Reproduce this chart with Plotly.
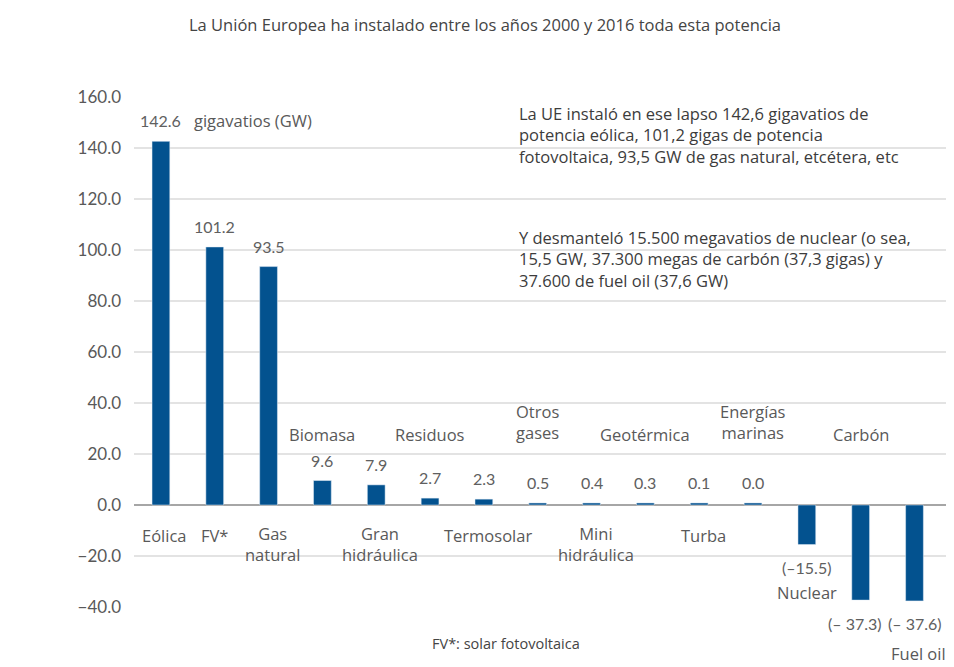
import plotly.graph_objects as go

categorias = ['Eólica', 'FV*', 'Gas<br>natural', 'Biomasa', 'Gran<br>hidráulica', 'Residuos',
              'Termosolar', 'Otros<br>gases', 'Mini<br>hidráulica', 'Geotérmica', 'Turba',
              'Energías<br>marinas', 'Nuclear', 'Carbón', 'Fuel oil']
# valores publicados (GW) y altura con que se ve cada barra en el gráfico
valores = [142.6, 101.2, 93.5, 9.6, 7.9, 2.7, 2.3, 0.5, 0.4, 0.3, 0.1, 0.0, -15.5, -37.3, -37.6]
alturas = [142.6, 101.2, 93.5, 9.6, 7.9, 2.7, 2.3, 0.8, 0.8, 0.8, 0.8, 0.8, -15.5, -37.3, -37.6]
# dónde va el nombre de cada categoría: debajo del eje ('abajo') o encima ('arriba')
lado = ['abajo', 'abajo', 'abajo', 'arriba', 'abajo', 'arriba', 'abajo', 'arriba',
        'abajo', 'arriba', 'abajo', 'arriba', 'abajo', 'arriba', 'abajo']

YMIN, YMAX = -40, 160
AZUL = '#03528f'
GRIS = '#595959'


def py(v):
    # posición en papel de un valor del eje y (para poder salir del área)
    return (v - YMIN) / (YMAX - YMIN)


# área de trazado en píxeles de la imagen: x 134..948, y 97..607
def px_x(p):
    return (p - 134) / 814


def px_y(p):
    return (607 - p) / 510


fig = go.Figure(go.Bar(x=categorias, y=alturas, marker_color=AZUL, hoverinfo='skip'))

anot = []
for i, (cat, v, h) in enumerate(zip(categorias, valores, alturas)):
    if v >= 0:
        txt, yv, dx = f'{v:.1f}', h + 8, 0
    else:
        sep = '– ' if cat != 'Nuclear' else '–'
        txt, yv, dx = f'({v:.1f})'.replace('-', sep), h - 9, 0
        if cat == 'Carbón':
            dx = -6
    anot.append(dict(x=cat, y=py(yv), yref='paper', text=txt, showarrow=False, xshift=dx,
                     xanchor='center', yanchor='middle',
                     font=dict(family='Lato', size=16, color='#606060')))
    dos = '<br>' in cat
    if cat == 'Nuclear':
        yc = -34.5
    elif cat == 'Fuel oil':
        yc = -58.4
    elif lado[i] == 'abajo':
        yc = -15.3 if dos else -11.8
    else:
        yc = 32.5 if dos else 27.8
    xs = 4 if lado[i] == 'abajo' and cat not in ('FV*', 'Nuclear') else 0
    anot.append(dict(x=cat, y=py(yc), yref='paper', text=cat, showarrow=False, xshift=xs,
                     xanchor='center', yanchor='middle',
                     font=dict(family='Open Sans', size=16.5, color=GRIS)))

anot.append(dict(xref='paper', yref='paper', x=px_x(192), y=py(150.6), xanchor='left',
                 yanchor='middle', text='gigavatios (GW)', showarrow=False,
                 font=dict(family='Open Sans', size=16.5, color=GRIS)))

texto1 = ('La UE instaló en ese lapso 142,6 gigavatios de<br>'
          'potencia eólica, 101,2 gigas de potencia<br>'
          'fotovoltaica, 93,5 GW de gas natural, etcétera, etc')
texto2 = ('Y desmanteló 15.500 megavatios de nuclear (o sea,<br>'
          '15,5 GW, 37.300 megas de carbón (37,3 gigas) y<br>'
          '37.600 de fuel oil (37,6 GW)')
for t, yy in ((texto1, 100), (texto2, 224)):
    anot.append(dict(xref='paper', yref='paper', x=px_x(517), y=px_y(yy),
                     text=t, showarrow=False, xanchor='left', yanchor='top', align='left',
                     font=dict(family='Open Sans', size=16.5, color='#3c3c3c')))

anot.append(dict(xref='paper', yref='paper', x=px_x(485), y=px_y(24), xanchor='center',
                 yanchor='middle',
                 text='La Unión Europea ha instalado entre los años 2000 y 2016 toda esta potencia',
                 showarrow=False, font=dict(family='Open Sans', size=16.5, color='#444444')))
anot.append(dict(xref='paper', yref='paper', x=px_x(506), y=px_y(643), xanchor='center',
                 yanchor='middle', text='FV*: solar fotovoltaica', showarrow=False,
                 font=dict(family='Open Sans', size=14.5, color='#444444')))

fig.update_layout(
    width=954, height=667,
    # la página desplaza la figura 8 px, de ahí los márgenes
    margin=dict(l=126, r=14, t=89, b=68),
    plot_bgcolor='white', paper_bgcolor='white',
    bargap=0.67,
    showlegend=False,
    annotations=anot,
    xaxis=dict(showticklabels=False, showgrid=False, zeroline=False, fixedrange=True),
    yaxis=dict(range=[YMIN, YMAX], dtick=20, tickformat='.1f', showgrid=True,
               gridcolor='#e3e3e3', gridwidth=1.5, zeroline=True, zerolinecolor='#a6a6a6',
               zerolinewidth=2, ticks='', ticklabelstandoff=12,
               tickfont=dict(family='Lato', size=17, color=GRIS), fixedrange=True),
)

fig.write_html("out.html")
